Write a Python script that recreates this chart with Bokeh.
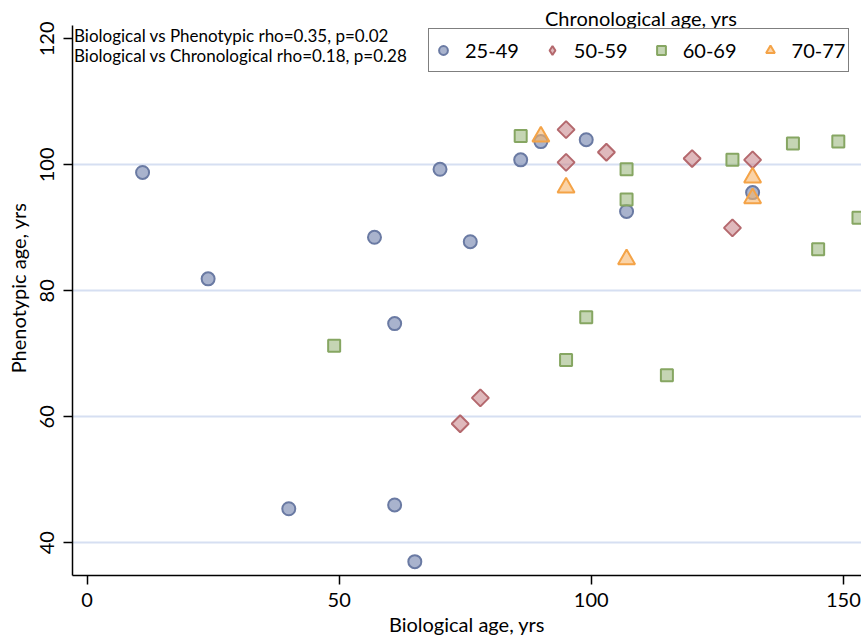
import math
from bokeh.plotting import figure
from bokeh.models import Legend, LegendItem, Label, FixedTicker, Range1d
from bokeh.embed import file_html
from bokeh.resources import INLINE

FONT = "Lato"

# Chronological age groups
groups = ["25-49", "50-59", "60-69", "70-77"]

# Biological age (x) and phenotypic age (y), one pair of lists per group
bio_25_49 = [11, 24, 40, 57, 61, 61, 65, 70, 76, 86, 90, 99, 107, 132]
phen_25_49 = [98.8, 81.9, 45.4, 88.5, 74.8, 46.0, 37.0, 99.3, 87.8, 100.8, 103.7, 104.0, 92.6, 95.6]

bio_50_59 = [74, 78, 95, 95, 103, 120, 128, 132]
phen_50_59 = [58.9, 63.0, 105.6, 100.4, 102.0, 101.0, 90.0, 100.8]

bio_60_69 = [49, 86, 95, 99, 107, 107, 115, 128, 140, 145, 149, 153]
phen_60_69 = [71.3, 104.6, 69.0, 75.8, 99.3, 94.5, 66.6, 100.8, 103.4, 86.6, 103.7, 91.6]

bio_70_77 = [90, 95, 107, 132, 132]
phen_70_77 = [104.5, 96.4, 85.0, 98.0, 94.7]

x_ticks = [0, 50, 100, 150]
y_ticks = [40, 60, 80, 100, 120]
grid_lines = [40, 60, 80, 100]

stats_lines = [
    "Biological vs Phenotypic rho=0.35, p=0.02",
    "Biological vs Chronological rho=0.18, p=0.28",
]

p = figure(
    width=861, height=640,
    x_range=Range1d(-2.9, 153.6), y_range=Range1d(34.8, 126.1),
    output_backend="svg", toolbar_location=None,
    min_border_left=72, min_border_right=0, min_border_top=0, min_border_bottom=65,
)
p.outline_line_color = None
p.background_fill_color = "white"
p.border_fill_color = "white"

# grid: horizontal only
p.xgrid.visible = False
p.ygrid.ticker = FixedTicker(ticks=grid_lines)
p.ygrid.grid_line_color = "#d6dff2"
p.ygrid.grid_line_width = 2

# axes
for ax in (p.xaxis[0], p.yaxis[0]):
    ax.axis_line_color = "black"
    ax.axis_line_width = 1.5
    ax.major_tick_line_color = "black"
    ax.major_tick_line_width = 1.5
    ax.major_tick_out = 9
    ax.major_tick_in = 0
    ax.minor_tick_line_color = None
    ax.major_label_text_font = FONT
    ax.major_label_text_font_size = "20px"
    ax.major_label_text_color = "black"
    ax.axis_label_text_font = FONT
    ax.axis_label_text_font_size = "20px"
    ax.axis_label_text_font_style = "normal"
    ax.axis_label_text_color = "black"

p.xaxis.ticker = FixedTicker(ticks=x_ticks)
p.yaxis.ticker = FixedTicker(ticks=y_ticks)
p.xaxis.axis_label = "Biological age, yrs"
p.yaxis.axis_label = "Phenotypic age, yrs"
p.xaxis.major_label_standoff = 8
p.yaxis.major_label_standoff = 9
p.xaxis.axis_label_standoff = 2
p.yaxis.axis_label_standoff = 8
p.yaxis.major_label_orientation = "vertical"
p.yaxis.bounds = (34.8, 122.1)

circle_style = dict(fill_color="#8593b8", fill_alpha=0.7, line_color="#6a7aa3", line_width=2)
diamond_style = dict(fill_color="#c98a8f", fill_alpha=0.6, line_color="#b4686d", line_width=2)
square_style = dict(fill_color="#a6bf8c", fill_alpha=0.65, line_color="#86a662", line_width=2)
triangle_style = dict(fill_color="#f7b66c", fill_alpha=0.6, line_color="#f4a347", line_width=2)

# scatter groups (diamonds drawn as squares turned by 45 degrees)
r1 = p.scatter(bio_25_49, phen_25_49, marker="circle", size=13, **circle_style)
r2 = p.scatter(bio_50_59, phen_50_59, marker="square", angle=math.pi / 4, size=12, **diamond_style)
r3 = p.scatter(bio_60_69, phen_60_69, marker="square", size=12, **square_style)
r4 = p.scatter(bio_70_77, phen_70_77, marker="triangle", size=17, **triangle_style)

# legend keys ignore glyph angles, so the diamond key comes from a hidden diamond renderer
r2_key = p.scatter(bio_50_59, phen_50_59, marker="diamond", size=12, visible=False, **diamond_style)

legend = Legend(
    items=[LegendItem(label=g, renderers=[r]) for g, r in zip(groups, [r1, r2_key, r3, r4])],
    orientation="horizontal",
    location=(356, 503),
    margin=0, padding=3,
    glyph_width=22, glyph_height=22,
    label_height=36, label_standoff=11, spacing=22,
    label_text_font=FONT, label_text_font_size="20px", label_text_color="black",
    border_line_color="black", border_line_width=1.5,
    background_fill_color="white", background_fill_alpha=1.0,
    click_policy="none", inactive_fill_alpha=0.0,
)
p.add_layout(legend)

p.add_layout(Label(x=109.9, y=123.4, text="Chronological age, yrs",
                   text_font=FONT, text_font_size="20px", text_color="black",
                   text_align="center", text_baseline="middle"))

for i, line in enumerate(stats_lines):
    p.add_layout(Label(x=-2.6, y=120.6 - 3.2 * i, text=line,
                       text_font=FONT, text_font_size="17px", text_color="black",
                       text_align="left", text_baseline="middle"))

open("out.html", "w").write(file_html(p, INLINE))
